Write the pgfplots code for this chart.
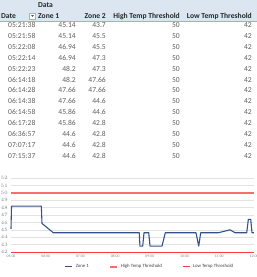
\documentclass[border=0pt]{standalone}
\usepackage{pgfplots}
\pgfplotsset{compat=1.18}
\usepackage{fontspec}
\setmainfont{Carlito}
\definecolor{hdr}{RGB}{220,230,241}
\definecolor{hdrline}{RGB}{149,179,215}
\definecolor{celltxt}{RGB}{95,95,95}
\definecolor{zoneblue}{RGB}{52,82,138}
\definecolor{highred}{RGB}{250,110,110}
\definecolor{lowred}{RGB}{255,60,60}
\begin{document}
\begin{tikzpicture}[x=1pt,y=1pt]
\path[use as bounding box] (0,0) rectangle (257,277);
% ---------- table ----------
\fill[hdr] (0,256) rectangle (257,277);
\draw[hdrline, line width=0.6pt] (0,256) -- (257,256);
\tikzset{hd/.style={font=\bfseries\fontsize{7.6}{9}\selectfont, inner sep=0pt, text=black!85},
         cl/.style={font=\fontsize{7.6}{9}\selectfont, inner sep=0pt, text=celltxt}}
\node[hd, anchor=base west] at (38,269.5) {Data};
\node[hd, anchor=base west] at (1,258.5) {Date};
\draw[gray!60, fill=white, line width=0.3pt] (29.5,258) rectangle (35.5,264);
\fill[gray!70!black] (31,262) -- (34,262) -- (32.5,260.2) -- cycle;
\node[hd, anchor=base west] at (38,258.5) {Zone 1};
\node[hd, anchor=base east] at (106,258.5) {Zone 2};
\node[hd, anchor=base east] at (180,258.5) {High Temp Threshold};
\node[hd, anchor=base east] at (252,258.5) {Low Temp Threshold};
\foreach \t/\a/\b [count=\i from 0] in {05:21:38/45.14/43.7, 05:21:58/45.14/45.5, 05:22:08/46.94/45.5, 05:22:14/46.94/47.3, 05:22:23/48.2/47.3, 06:14:18/48.2/47.66, 06:14:28/47.66/47.66, 06:14:38/47.66/44.6, 06:14:58/45.86/44.6, 06:17:28/45.86/42.8, 06:36:57/44.6/42.8, 07:07:17/44.6/42.8, 07:15:37/44.6/42.8}{
  \pgfmathsetmacro{\yy}{249.5-10.9*\i}
  \node[cl, anchor=base west] at (8,\yy) {\t};
  \node[cl, anchor=base east] at (76,\yy) {\a};
  \node[cl, anchor=base east] at (106,\yy) {\b};
  \node[cl, anchor=base east] at (180,\yy) {50};
  \node[cl, anchor=base east] at (252,\yy) {42};
}
% ---------- chart ----------
\begin{axis}[at={(11pt,25pt)}, anchor=south west, scale only axis,
  width=243pt, height=74pt,
  xmin=5, xmax=12, ymin=42, ymax=52,
  xtick={5,6,7,8,9,10,11,12},
  xticklabels={05:00,06:00,07:00,08:00,09:00,10:00,11:00,12:00},
  ytick={42,43,44,45,46,47,48,49,50,51,52},
  ymajorgrids, grid style={gray!22, line width=0.4pt},
  axis line style={draw=none},
  major tick length=0pt,
  tick label style={font=\fontsize{3.8}{4}\selectfont, text=gray},
  yticklabel style={anchor=east, inner sep=0pt, xshift=-3pt},
  xticklabel style={anchor=north, inner sep=0pt, yshift=-3pt},
  clip=false,
  legend columns=3,
  legend cell align=left,
  legend image code/.code={\draw[#1] (0pt,0pt) -- (7pt,0pt);},
  legend style={at={(0.22,-0.2)}, anchor=west, draw=none, fill=none,
    inner sep=0pt, font=\fontsize{4.8}{5}\selectfont, text=black!75,
    /tikz/every odd column/.append style={column sep=1pt},
    /tikz/every even column/.append style={column sep=18pt}},
]
\addplot[zoneblue, line width=1.1pt, line join=round] coordinates {
(5.000,45.14) (5.015,48.2) (5.873,48.2) (5.893,45.86) (6.22,44.6) (8.696,44.6)
(8.714,42.8) (8.794,42.8) (8.832,44.6) (8.967,44.6) (9.005,42.8) (9.350,42.8)
(9.445,44.6) (10.33,44.6) (10.408,42.8) (10.465,44.6) (10.972,44.6) (11.31,45.0)
(11.455,44.6) (11.79,44.6) (11.837,46.4) (11.906,46.4) (11.943,44.6) (12.0,44.6)};
\addlegendentry{Zone 1}
\addplot[highred, line width=2pt] coordinates {(5,50) (12,50)};
\addlegendentry{High Temp Threshold}
\addplot[lowred, line width=1pt] coordinates {(5,42) (12,42)};
\addlegendentry{Low Temp Threshold}
\end{axis}
\end{tikzpicture}
\end{document}
